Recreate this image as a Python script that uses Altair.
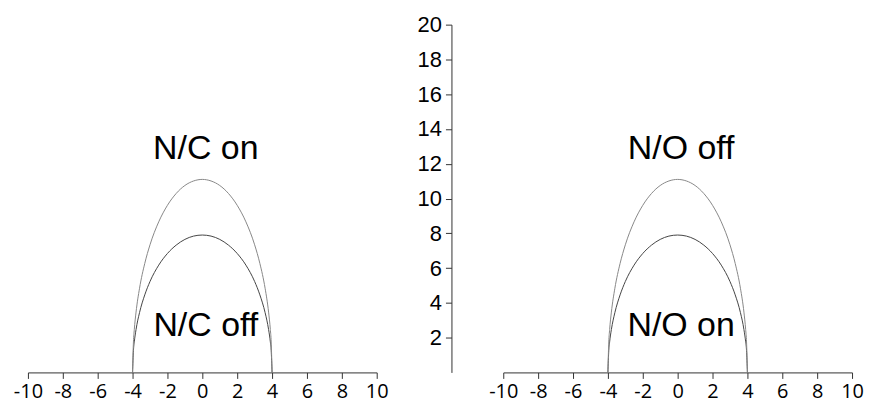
import altair as alt
import pandas as pd

# Half-profiles of the two arch curves, mirrored about x = 0
half_x = [0, 0.5, 1, 1.5, 2, 2.5, 3, 3.3, 3.6, 3.8, 3.9, 3.95, 4]
inner_h = [7.9, 7.84, 7.65, 7.32, 6.84, 6.17, 5.23, 4.46, 3.44, 2.47, 1.76, 1.25, 0]
outer_h = [11.1, 11.01, 10.75, 10.29, 9.61, 8.66, 7.34, 6.27, 4.84, 3.47, 2.47, 1.75, 0]

left_labels = ["N/C on", "N/C off"]
right_labels = ["N/O off", "N/O on"]
label_x = [0.2, 0.2]
label_y = [12.25, 2.12]

x_ticks = list(range(-10, 11, 2))
y_ticks = list(range(2, 21, 2))


def full_profile(hx, hy):
    xs = [-v for v in reversed(hx)] + hx[1:]
    ys = list(reversed(hy)) + hy[1:]
    return xs, ys


rows = []
for name, h in [("inner", inner_h), ("outer", outer_h)]:
    xs, ys = full_profile(half_x, h)
    for i, (a, b) in enumerate(zip(xs, ys)):
        rows.append({"curve": name, "x": a, "y": b, "order": i})
curves = pd.DataFrame(rows)

FONT = "Liberation Sans"
XFONT = "Open Sans"


def panel(labels, show_y):
    x_enc = alt.X(
        "x:Q",
        scale=alt.Scale(domain=[-10, 10], nice=False, zero=False),
        axis=alt.Axis(values=x_ticks, title=None, grid=False, tickSize=6,
                      labelFontSize=20, labelPadding=3, labelFont=XFONT,
                      labelOverlap=False, labelFlush=False,
                      labelExpr="datum.value < 0 ? '-' + abs(datum.value) : '' + datum.value",
                      domainColor="#333", tickColor="#333", labelColor="#000"),
    )
    if show_y:
        y_axis = alt.Axis(values=y_ticks, title=None, grid=False, tickSize=6,
                          offset=52, labelFontSize=22, labelPadding=4,
                          labelFont=FONT, labelOverlap=False, labelFlush=False,
                          domainColor="#333", tickColor="#333", labelColor="#000")
    else:
        y_axis = None
    y_enc = alt.Y("y:Q", scale=alt.Scale(domain=[0, 20], nice=False, zero=False),
                  axis=y_axis)

    lines = alt.Chart(curves).mark_line(strokeWidth=1, interpolate="monotone").encode(
        x=x_enc,
        y=y_enc,
        color=alt.Color("curve:N", scale=alt.Scale(domain=["inner", "outer"],
                                                   range=["#444", "#888"]),
                        legend=None),
        detail="curve:N",
        order="order:Q",
    )
    ldf = pd.DataFrame({"label": labels, "x": label_x, "y": label_y})
    texts = alt.Chart(ldf).mark_text(font=FONT, fontSize=34, align="center",
                                     baseline="alphabetic", color="#000").encode(
        x=x_enc, y=y_enc, text="label:N")
    return alt.layer(lines, texts).properties(width=350, height=349)


chart = alt.hconcat(panel(left_labels, False), panel(right_labels, True),
                    spacing=127, bounds="flush").properties(
    padding={"left": 5, "top": 5, "right": 0, "bottom": 4}
).configure_view(stroke=None)

chart.save("out.html", embed_options={"renderer": "svg", "actions": False})
